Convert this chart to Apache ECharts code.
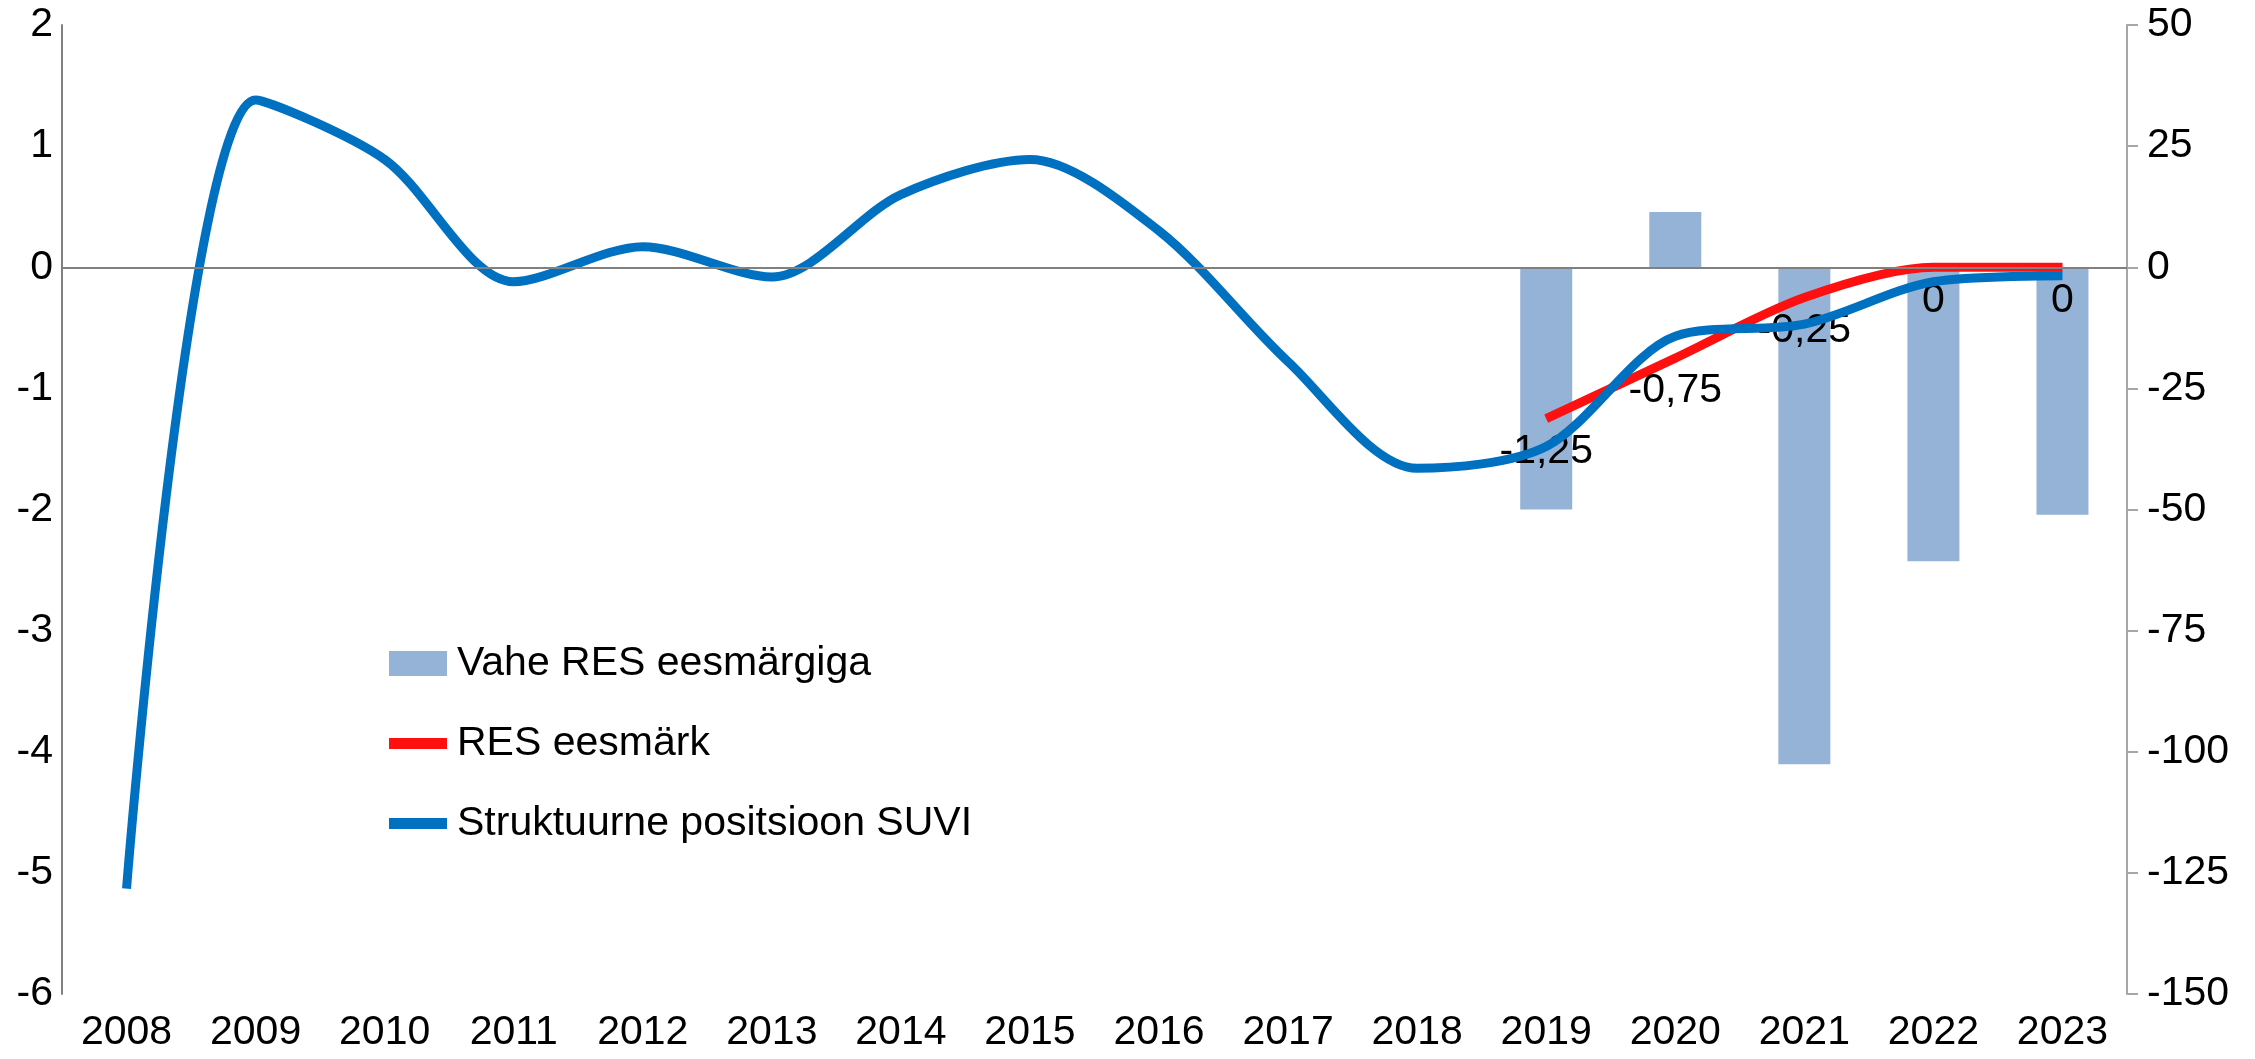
<!DOCTYPE html>
<html>
<head>
<meta charset="utf-8">
<script src="https://cdn.jsdelivr.net/npm/echarts@6/dist/echarts.min.js"></script>
<style>
html, body { margin: 0; padding: 0; background: #fff; }
#chartBox { width: 2255px; height: 1059px; }
</style>
</head>
<body>
<div id="chartBox"></div>
<script>
// aastad
var years = ['2008', '2009', '2010', '2011', '2012', '2013', '2014', '2015',
	'2016', '2017', '2018', '2019', '2020', '2021', '2022', '2023'];
// Struktuurne positsioon SUVI (vasak telg)
var suvi = [-5.13, 1.38, 0.89, -0.12, 0.17, -0.08, 0.60, 0.89,
	0.30, -0.78, -1.66, -1.48, -0.57, -0.47, -0.12, -0.07];
// RES eesmärk (vasak telg)
var resTarget = [null, null, null, null, null, null, null, null,
	null, null, null, -1.25, -0.75, -0.25, 0, 0];
// Vahe RES eesmärgiga (parem telg)
var resGap = [null, null, null, null, null, null, null, null,
	null, null, null, -50, 11.4, -102.6, -60.7, -51.1];

var leftTicks = { min: -6, max: 2, interval: 1 };
var rightTicks = { min: -150, max: 50, interval: 25 };

var font = "'Liberation Sans', Arial, sans-serif";

window.addEventListener('load', function() {
	var myChart = echarts.init(document.getElementById('chartBox'));

	var option = {
		backgroundColor: '#ffffff',
		animation: false,
		textStyle: { fontFamily: font },
		grid: {
			left: 62,
			right: 128,
			top: 25,
			bottom: 65,
			containLabel: false
		},
		legend: {
			orient: 'vertical',
			left: 389,
			top: 643,
			padding: 0,
			itemWidth: 58,
			itemHeight: 25,
			itemGap: 39,
			textStyle: {
				fontFamily: font,
				fontSize: 41,
				color: '#000',
				lineHeight: 40,
				padding: [0, 0, 0, 5]
			},
			data: [
				{ name: 'Vahe RES eesmärgiga', icon: 'rect' },
				{ name: 'RES eesmärk', icon: 'path://M0,0h58v11h-58z' },
				{ name: 'Struktuurne positsioon SUVI', icon: 'path://M0,0h58v11h-58z' }
			]
		},
		xAxis: {
			type: 'category',
			data: years,
			boundaryGap: true,
			axisLine: { show: false },
			axisTick: { show: false },
			axisLabel: {
				fontFamily: font,
				fontSize: 41,
				color: '#000',
				margin: 18
			}
		},
		yAxis: [{
			type: 'value',
			min: leftTicks.min,
			max: leftTicks.max,
			interval: leftTicks.interval,
			position: 'left',
			axisLine: { show: true, lineStyle: { color: '#808080', width: 2 } },
			axisTick: { show: false },
			splitLine: { show: false },
			axisLabel: {
				fontFamily: font,
				fontSize: 41,
				color: '#000',
				margin: 9
			}
		}, {
			type: 'value',
			min: rightTicks.min,
			max: rightTicks.max,
			interval: rightTicks.interval,
			position: 'right',
			axisLine: { show: true, lineStyle: { color: '#A6A6A6', width: 2 } },
			axisTick: { show: true, inside: false, length: 11, lineStyle: { color: '#A6A6A6', width: 2 } },
			splitLine: { show: false },
			axisLabel: {
				fontFamily: font,
				fontSize: 41,
				color: '#000',
				margin: 20
			}
		}],
		series: [{
			name: 'Vahe RES eesmärgiga',
			type: 'bar',
			yAxisIndex: 1,
			data: resGap,
			barWidth: 52,
			itemStyle: { color: '#95B3D7' },
			markLine: {
				silent: true,
				symbol: 'none',
				label: { show: false },
				lineStyle: { color: '#808080', width: 2, type: 'solid' },
				data: [{ yAxis: 0 }]
			},
			z: 1
		}, {
			name: 'RES eesmärk',
			type: 'line',
			yAxisIndex: 0,
			data: resTarget,
			smooth: 0.3,
			symbol: 'circle',
			symbolSize: 1,
			showSymbol: true,
			itemStyle: { color: '#FF1010' },
			lineStyle: { color: '#FF1010', width: 9 },
			label: {
				show: true,
				position: 'bottom',
				distance: 12,
				fontFamily: font,
				fontSize: 41,
				color: '#000',
				formatter: function(p) {
					return String(p.value).replace('.', ',');
				}
			},
			z: 3
		}, {
			name: 'Struktuurne positsioon SUVI',
			type: 'line',
			yAxisIndex: 0,
			data: suvi,
			smooth: 0.3,
			showSymbol: false,
			itemStyle: { color: '#0070C0' },
			lineStyle: { color: '#0070C0', width: 9 },
			z: 4
		}]
	};
	myChart.setOption(option);
});
</script>
</body>
</html>
